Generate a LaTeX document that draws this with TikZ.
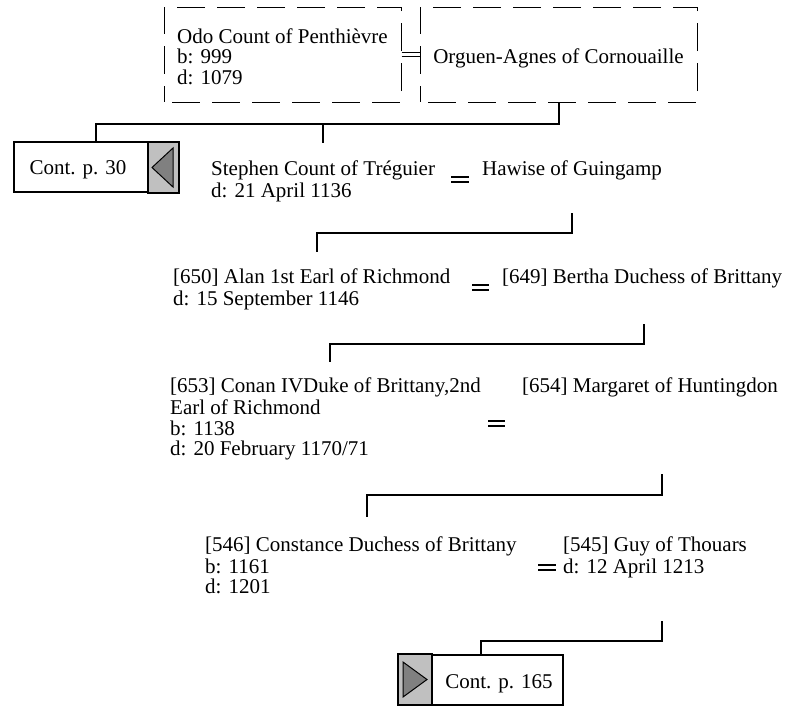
\documentclass[tikz,border=0pt]{standalone}
\usepackage{fontspec}
\setmainfont{Liberation Serif}
\newcommand\pfont{\fontsize{21}{20.5}\selectfont}
\definecolor{boxgray}{HTML}{C0C0C0}
\definecolor{trigray}{HTML}{808080}
\begin{document}
\begin{tikzpicture}[x=1pt,y=-1pt,
  conn/.style={draw=black,line width=2pt},
  eqline/.style={draw=black,line width=1.8pt},
  dbox/.style={draw=black,line width=1pt,dash pattern=on 28pt off 12pt,dash phase=32pt,
     align=left,font=\pfont,inner sep=0pt},
  person/.style={anchor=north west,inner sep=0pt,align=left,font=\pfont},
  contbox/.style={draw=black,line width=1.5pt,minimum width=164pt,minimum height=50pt,inner sep=0pt},
  graypart/.style={draw=black,line width=2pt,fill=boxgray},
  tri/.style={draw=black,line width=1pt,fill=trigray},
  ctext/.style={anchor=base,inner sep=0pt,font=\pfont}]
\useasboundingbox (0,0) rectangle (800,705);

% top couple
\node[dbox,minimum width=237pt,minimum height=95pt] (odo) at (282.5,54.5)
  {\rule{0pt}{24.35pt}Odo Count of Penthièvre\\b: 999\\d: 1079\strut};
\node[dbox,minimum width=277pt,minimum height=95pt] (orguen) at (558.5,54.5)
  {\rule{0pt}{24.35pt}Orguen-Agnes of Cornouaille\strut};
\draw[line width=1pt] ([yshift=-2pt]odo.east) -- ([yshift=-2pt]orguen.west);
\draw[line width=1pt] ([yshift=2pt]odo.east) -- ([yshift=2pt]orguen.west);

% continuation box p. 30
\node[contbox] (cont30) at (96,167) {};
\draw[graypart] (148,142) rectangle (cont30.south east);
\draw[tri] (173,148) -- (173,187) -- (152,167.5) -- cycle;
\node[ctext] (c30t) at (78,174) {Cont. p. 30};

% continuation box p. 165
\node[contbox] (cont165) at (481,680) {};
\draw[graypart] (cont165.north west) rectangle (432,705);
\draw[tri] (403,662) -- (403,697) -- (427,679.5) -- cycle;
\node[ctext] (c165t) at (499,688) {Cont. p. 165};

% persons
\node[person] (stephen) at (211,160.65) {\strut Stephen Count of Tréguier\\d: 21 April 1136};
\node[person] (hawise) at (482,160.65) {\strut Hawise of Guingamp};
\node[person] (alan) at (173,268.65) {\strut [650] Alan 1st Earl of Richmond\\d: 15 September 1146};
\node[person] (bertha) at (502,268.65) {\strut [649] Bertha Duchess of Brittany};
\node[person] (conan) at (170,377.65) {\strut [653] Conan IVDuke of Brittany,2nd\\Earl of Richmond\\b: 1138\\d: 20 February 1170/71};
\node[person] (margaret) at (522,377.65) {\strut [654] Margaret of Huntingdon};
\node[person] (constance) at (205,536.65) {\strut [546] Constance Duchess of Brittany\\b: 1161\\d: 1201};
\node[person] (guy) at (563,536.65) {\strut [545] Guy of Thouars\\d: 12 April 1213};

% marriage marks
\draw[eqline] (451,177) -- (469,177) (451,182) -- (469,182);
\draw[eqline] (472,285) -- (489,285) (472,290) -- (489,290);
\draw[eqline] (488,421) -- (505,421) (488,426) -- (505,426);
\draw[eqline] (538,565) -- (556,565) (538,570) -- (556,570);

% connector end points
\coordinate (st-in) at (323,143);
\coordinate (hw-out) at (572,213);
\coordinate (al-in) at (317,252);
\coordinate (be-out) at (644,324);
\coordinate (co-in) at (330,362);
\coordinate (ma-out) at (662,474);
\coordinate (cs-in) at (367,517);
\coordinate (gu-out) at (662,621);

% connectors
\path (orguen.south) ++(0,21) coordinate (j1);
\draw[conn] (orguen.south) -- (j1) -| (cont30.north);
\draw[conn] (j1) -| (st-in);
\draw[conn] (hw-out) -- ++(0,20) -| (al-in);
\draw[conn] (be-out) -- ++(0,20) -| (co-in);
\draw[conn] (ma-out) -- ++(0,21) -| (cs-in);
\draw[conn] (gu-out) -- ++(0,20) -| (cont165.north);
\end{tikzpicture}
\end{document}
